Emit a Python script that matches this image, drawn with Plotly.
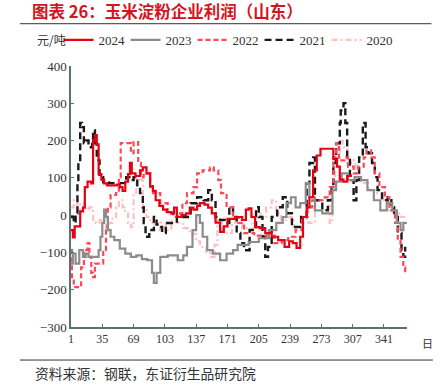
import plotly.graph_objects as go

# ---- data (day of year, profit 元/吨) ----
days_2024 = [1, 3, 5, 10, 11, 14, 16, 19, 23, 25, 27, 29, 31, 34, 37, 40, 51, 54, 57, 60, 63, 65, 67, 71, 76, 79, 83, 87, 90, 93, 97, 101, 105, 110, 113, 116, 121, 126, 130, 134, 138, 141, 146, 150, 154, 158, 163, 167, 171, 176, 180, 184, 187, 191, 194, 197, 201, 206, 212, 219, 226, 233, 238, 242, 246, 250, 253, 257, 260, 264, 268, 272, 282, 286, 290, 293, 297, 301, 305]
vals_2024 = [-40, -60, -30, -30, 10, 20, 75, 90, 85, 200, 215, 190, 110, 95, 85, 80, 82, 75, 65, 90, 110, 140, 112, 105, 120, 128, 112, 78, 65, 40, 25, 15, 8, 5, 20, -5, 0, 5, 20, 15, 25, 32, 28, 20, 5, -20, -45, -30, -10, -10, -5, -5, -13, 15, 18, -5, -32, -35, -48, -58, -67, -85, -70, -75, -88, -58, -5, 21, 48, 120, 160, 178, 178, 150, 130, 95, 90, 105, 110]

days_2023 = [1, 3, 6, 10, 14, 17, 20, 28, 31, 33, 35, 37, 39, 41, 44, 48, 54, 60, 66, 72, 78, 84, 89, 91, 94, 98, 106, 117, 123, 127, 133, 137, 141, 144, 149, 155, 163, 170, 177, 182, 187, 194, 205, 216, 224, 231, 235, 240, 245, 250, 256, 260, 266, 274, 280, 285, 289, 295, 302, 309, 316, 323, 330, 337, 344, 350, 355, 359, 362, 365]
vals_2023 = [-130, -103, -130, -94, -112, -103, -112, -112, -94, -58, -21, 15, -5, -40, -58, -67, -90, -103, -112, -108, -118, -121, -155, -182, -155, -112, -108, -121, -108, -85, -40, 0, -21, -58, -94, -103, -121, -103, -94, -80, -80, -72, -62, -40, -21, -5, 32, 48, 21, 32, 86, 48, 13, 5, 5, 67, 90, 112, 94, 102, 94, 67, 40, 13, 32, 13, -21, -40, -21, -19]

days_2022 = [1, 2, 4, 10, 12, 15, 19, 21, 23, 25, 27, 35, 36, 39, 41, 44, 50, 53, 55, 61, 66, 69, 72, 74, 77, 80, 87, 90, 98, 106, 112, 117, 122, 127, 134, 138, 144, 152, 156, 161, 164, 170, 177, 183, 189, 200, 214, 222, 230, 237, 245, 252, 258, 263, 270, 277, 282, 286, 289, 292, 298, 302, 308, 313, 319, 322, 327, 331, 336, 342, 347, 353, 356, 359, 362, 364]
vals_2022 = [-94, -166, -193, -193, -140, -94, -75, -112, -155, -166, -130, -130, -94, -32, 21, 54, 59, 102, 193, 193, 166, 196, 196, 140, 102, 112, 75, 59, 32, 5, -5, 5, 32, 59, 75, 112, 120, 128, 120, 94, 59, 21, -5, -21, -48, -55, -55, -75, -67, -58, -40, -5, 21, 40, 40, 48, 75, 155, 193, 147, 155, 130, 112, 130, 155, 174, 155, 112, 75, 48, 13, -21, -67, -112, -140, -161]

days_2021 = [1, 4, 6, 8, 9, 11, 13, 15, 17, 20, 24, 25, 27, 29, 32, 36, 42, 50, 55, 61, 66, 69, 73, 76, 79, 80, 82, 86, 91, 94, 97, 100, 104, 111, 116, 123, 131, 138, 145, 150, 154, 158, 163, 168, 173, 177, 181, 185, 189, 195, 202, 205, 209, 212, 215, 219, 225, 231, 236, 241, 247, 251, 257, 260, 264, 266, 274, 280, 284, 286, 289, 293, 294, 297, 299, 301, 304, 308, 311, 314, 318, 321, 324, 328, 331, 334, 339, 345, 349, 352, 356, 360, 362, 364]
vals_2021 = [-5, -21, 5, 86, 140, 247, 236, 193, 200, 182, 200, 228, 193, 147, 102, 88, 86, 86, 86, 102, 94, 102, 75, 59, 21, -21, -58, -40, -5, -25, -32, -48, -21, -21, -5, -5, 32, 48, 40, 67, 40, -5, -13, -21, 21, -5, -48, -75, -94, -40, 21, -5, -58, -112, -85, -5, 21, 48, 5, -32, -32, -5, 86, 140, 155, 40, 13, 40, 75, 140, 193, 247, 281, 300, 247, 155, 94, 40, 94, 155, 247, 182, 166, 140, 102, 67, 40, 48, 21, -5, -48, -94, -112, -85]

days_2020 = [1, 4, 8, 11, 15, 19, 21, 25, 28, 32, 36, 39, 42, 46, 50, 53, 57, 60, 63, 66, 69, 72, 76, 79, 83, 87, 92, 98, 104, 110, 116, 123, 130, 137, 141, 148, 152, 157, 160, 165, 170, 176, 181, 187, 192, 198, 207, 213, 219, 224, 229, 236, 243, 253, 259, 266, 274, 282, 285, 288, 293, 296, 301, 305, 310, 316, 324, 331, 338, 346, 353, 359, 363]
vals_2020 = [21, 40, 5, 32, 21, 13, 21, -13, -21, -13, -21, -40, -21, -5, 21, 40, 21, 5, -21, -32, 60, 110, 95, 20, -5, -21, -40, -20, -40, -15, -20, -35, -50, -70, -85, -100, -112, -80, -13, -40, -48, -20, -13, -35, -40, 5, -5, 21, 40, 5, -13, -5, -32, -10, -21, 40, 48, -21, 67, 155, 200, 182, 140, 147, 102, 86, 67, 59, 40, 13, 5, -5, -13]

x_ticks = [1, 35, 69, 103, 137, 171, 205, 239, 273, 307, 341]
y_ticks = [-300, -200, -100, 0, 100, 200, 300, 400]

series = [
    ("2024", days_2024, vals_2024, dict(color="#E60012", width=2.2, dash="solid")),
    ("2023", days_2023, vals_2023, dict(color="#8C8C8C", width=2.2, dash="solid")),
    ("2022", days_2022, vals_2022, dict(color="#FF4757", width=2.2, dash="5px,3px")),
    ("2021", days_2021, vals_2021, dict(color="#1A1A1A", width=2.4, dash="7px,4px")),
    ("2020", days_2020, vals_2020, dict(color="#FFC0C0", width=2.2, dash="6px,3px,2px,3px")),
]

fig = go.Figure()
order = [4, 3, 2, 1, 0]
for i in order:
    name, d, v, ln = series[i]
    fig.add_trace(go.Scatter(x=d, y=v, name=name, mode="lines", line=ln,
                             line_shape="hv", legendrank=i + 1))

serif = "Liberation Serif, Times New Roman, serif"
axis_col = "#5A7272"

fig.update_layout(
    width=446, height=390,
    margin=dict(l=71, r=39, t=66, b=63, autoexpand=False),
    paper_bgcolor="white", plot_bgcolor="white",
    showlegend=True,
    legend=dict(orientation="h", x=-0.037, xanchor="left", y=1.1, yanchor="middle",
                font=dict(family=serif, size=13, color="#333333"),
                itemwidth=30, entrywidth=22, entrywidthmode="pixels",
                bgcolor="rgba(0,0,0,0)", traceorder="normal"),
    title=dict(text="<b>图表 26：玉米淀粉企业利润（山东）</b>", xref="container",
               x=0.072, xanchor="left", y=0.969, yanchor="middle",
               font=dict(family="Noto Sans CJK SC", size=16.5, color="#D7141E")),
    xaxis=dict(range=[1, 366], tickvals=x_ticks, ticktext=[str(t) for t in x_ticks],
               showgrid=False, zeroline=False, showline=True, linecolor=axis_col,
               linewidth=1.5, ticks="inside", ticklen=3, tickcolor=axis_col,
               tickfont=dict(family=serif, size=12, color="#333333")),
    yaxis=dict(range=[-300, 400], tickvals=y_ticks, showgrid=False, zeroline=False,
               showline=True, linecolor=axis_col, linewidth=1.5, ticks="inside",
               ticklen=3, tickcolor=axis_col,
               tickfont=dict(family=serif, size=13, color="#333333")),
    annotations=[
        dict(text="元/吨", xref="paper", yref="paper", x=-0.107, y=1.1, xanchor="left",
             yanchor="middle", showarrow=False,
             font=dict(family="Noto Sans CJK SC", size=12, color="#333333")),
        dict(text="日", xref="paper", yref="paper", x=1.06, y=-0.06, xanchor="center",
             yanchor="middle", showarrow=False,
             font=dict(family="Noto Sans CJK SC", size=11, color="#333333")),
        dict(text="资料来源：钢联，东证衍生品研究院", xref="paper", yref="paper", x=-0.113,
             y=-0.176, xanchor="left", yanchor="middle", showarrow=False,
             font=dict(family="Noto Sans CJK SC", size=13.8, color="#333333")),
        # top rule under the title
        dict(text="", xref="paper", yref="paper", x=-0.152, y=1.162, showarrow=True,
             axref="pixel", ayref="pixel", ax=413, ay=0, arrowhead=0, arrowwidth=1,
             arrowcolor="#333333", standoff=0, startstandoff=0),
    ],
    shapes=[
        dict(type="line", xref="paper", yref="paper", x0=-0.152, x1=1.077, y0=-0.1266, y1=-0.1266,
             layer="below", line=dict(color="#333333", width=1)),
    ],
)

fig.write_html("out.html", config={"displayModeBar": False},
               post_script="document.body.style.margin='0';")
